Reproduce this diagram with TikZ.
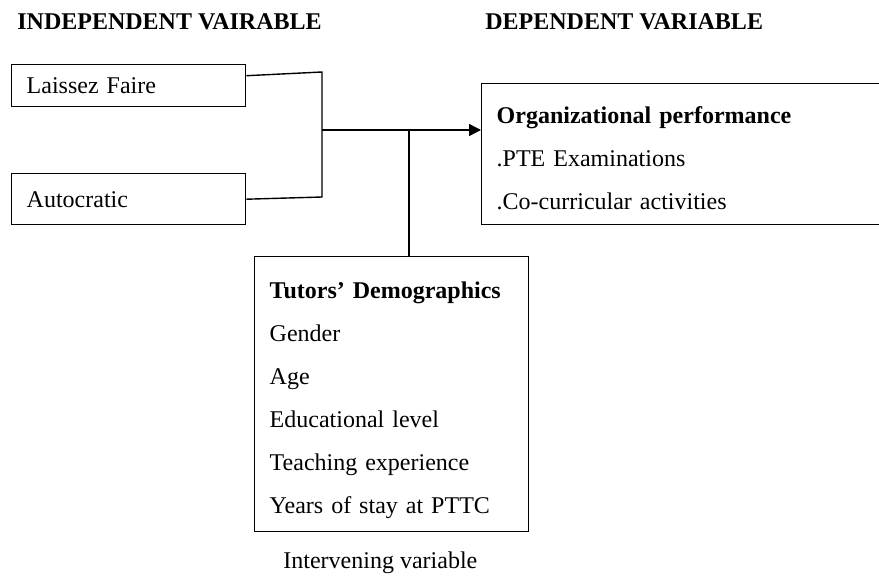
\documentclass[tikz,border=0pt]{standalone}
\usepackage{fontspec}
\setmainfont{Liberation Serif}
\usetikzlibrary{arrows.meta,positioning,calc}

\begin{document}
\begin{tikzpicture}[
    x=0.5pt, y=-0.5pt,
    box/.style={rectangle, draw, line width=0.7pt, anchor=north west, inner xsep=7.5pt, inner ysep=0pt, align=left, font=\fontsize{12}{21.5}\selectfont},
    heading/.style={anchor=west, inner sep=0pt, font=\fontsize{12}{14}\selectfont\bfseries},
    caption/.style={anchor=west, inner sep=0pt, font=\fontsize{12}{14}\selectfont},
    link/.style={line width=0.7pt},
    arrow/.style={-{Triangle[length=6pt,width=6pt]}, line width=0.7pt},
]
    \useasboundingbox (0,0) rectangle (879,579);
    \clip (0,0) rectangle (879,579);

    % Headings
    \node[heading] (indep) at (17,22) {INDEPENDENT VAIRABLE};
    \node[heading] (dep) at (485,22) {DEPENDENT VARIABLE};

    % Independent variables
    \node[box, minimum height=21pt, text width=102pt] (lf) at (11,64) {Laissez Faire};
    \node[box, minimum height=25.5pt, text width=102pt] (ac) at (11,173) {Autocratic};

    % Dependent variable
    \node[box, minimum height=70.5pt, text width=187pt] (op) at (481,83) {
        \rule{0pt}{12.3pt}\textbf{Organizational performance}\\
        .PTE Examinations\\
        .Co-curricular activities
    };

    % Intervening variable
    \node[box, minimum height=137.5pt, text width=122pt] (td) at (254,256) {
        \rule{0pt}{14pt}\textbf{Tutors’ Demographics}\\
        Gender\\
        Age\\
        Educational level\\
        Teaching experience\\
        Years of stay at PTTC
    };
    \node[caption] (intv) at (283,563) {Intervening variable};

    % Connectors
    \coordinate (jtop) at (322,72);
    \coordinate (jbot) at (322,197);
    \coordinate (jmid) at (322,130);
    \coordinate (jtd) at (409,130);
    \draw[link] ([yshift=5pt]lf.east) -- (jtop) -- (jbot) -- (ac.east);
    \draw[arrow] (jmid) -- (jmid -| op.west);
    \draw[link] (jtd) -- (jtd |- td.north);
\end{tikzpicture}
\end{document}
